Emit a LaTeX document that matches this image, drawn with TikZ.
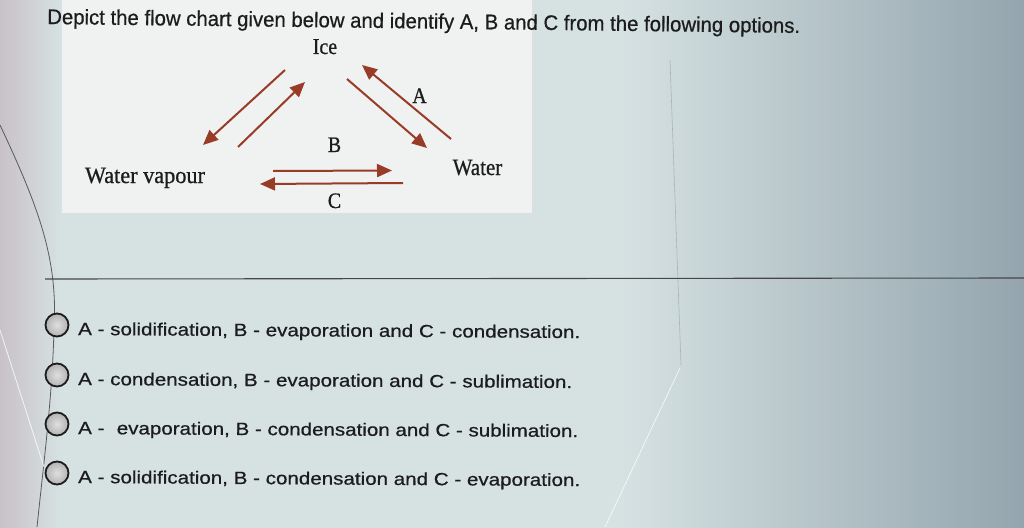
\documentclass[tikz,border=0pt]{standalone}
\usepackage{fontspec}
\setmainfont{Liberation Serif}[FakeBold=0.5]
\setsansfont{Liberation Sans}
\newfontfamily\optfont{Liberation Sans}[FakeBold=0.6]
\newfontfamily\serfont{Liberation Serif}[FakeBold=0.8]
\usetikzlibrary{arrows.meta}
\definecolor{arrowc}{HTML}{983C27}
\definecolor{bgmid}{HTML}{D6E2E2}
\definecolor{bgleft}{HTML}{C7BFC6}
\definecolor{bgright}{HTML}{93A4AE}
\definecolor{panelc}{HTML}{F4F5F4}
\definecolor{textc}{HTML}{1C1C1C}
\tikzset{
  arr/.style={draw=arrowc, line width=2pt, -{Triangle[length=15pt,width=13pt]}},
  serlab/.style={font=\serfont\fontsize{21}{24}\selectfont, text=textc, inner sep=0pt, anchor=base},
  optbox/.style={circle, draw=textc, line width=1.8pt, inner color=gray!25, outer color=gray!60, minimum size=23pt, inner sep=0pt},
  opttext/.style={anchor=base west, inner sep=0pt, rotate=-0.35, text=textc, font=\optfont}
}
\begin{document}
\begin{tikzpicture}[x=1pt,y=-1pt]
\useasboundingbox (0,0) rectangle (1024,527);
% background
\fill[bgmid] (-5,-5) rectangle (1030,532);
\shade[left color=bgmid, right color=bgright] (620,-5) rectangle (1030,532);
\shade[left color=bgleft, right color=bgmid] (-5,-5) rectangle (62,532);
\fill[panelc, opacity=0.85] (62,-5) rectangle (532,213);
% photo artefacts
\draw[gray!70!black, line width=0.8pt] (0,125) .. controls (40,210) and (58,260) .. (54,330) .. controls (52,400) and (44,460) .. (37,527);
\draw[white, line width=0.8pt, opacity=0.8] (0,330) -- (44,467);
\draw[gray!60, line width=0.6pt] (670,60) -- (681,365);
\draw[white, line width=0.7pt, opacity=0.8] (680,368) -- (605,527);
\draw[gray!55!black, line width=1.1pt] (45,279) -- (1024,278);
% title
\node[anchor=base west, inner sep=0pt, rotate=-0.68, text=textc, font=\optfont] (title) at (47,24)
  {\resizebox{753pt}{15.3pt}{Depict the flow chart given below and identify A, B and C from the following options.}};
% diagram nodes
\node[serlab] (ice) at (325,54) {\scalebox{0.95}[1.08]{Ice}};
\node[serlab] (vap) at (145,183) {\scalebox{1.06}[1.12]{Water vapour}};
\node[serlab] (wat) at (477.5,175) {\scalebox{1.0}[1.12]{Water}};
\node[serlab] (la) at (419.5,103) {\scalebox{0.95}[1.05]{A}};
\node[serlab] (lb) at (334.5,152) {\scalebox{0.95}[1.05]{B}};
\node[serlab] (lc) at (334.5,208) {\scalebox{0.95}[1.05]{C}};
% connector end points
\coordinate (iv1) at (285,70);  \coordinate (iv2) at (203,145);
\coordinate (vi1) at (238,147); \coordinate (vi2) at (305,82);
\coordinate (iw1) at (347,79);  \coordinate (iw2) at (427,148);
\coordinate (wi1) at (451,139); \coordinate (wi2) at (362,65);
\coordinate (b1) at (273,171);  \coordinate (b2) at (392,170.5);
\coordinate (c1) at (403,183);  \coordinate (c2) at (260,184);
\draw[arr] (iv1) -- (iv2);
\draw[arr] (vi1) -- (vi2);
\draw[arr] (iw1) -- (iw2);
\draw[arr] (wi1) -- (wi2);
\draw[arr] (b1) -- (b2);
\draw[arr] (c1) -- (c2);
% options
\node[optbox] (r1) at (57,325) {};
\node[optbox] (r2) at (57,375) {};
\node[optbox] (r3) at (57,424) {};
\node[optbox] (r4) at (57,473) {};
\node[opttext] (o1) at (78,335) {\resizebox{502pt}{12.8pt}{A - solidification, B - evaporation and C - condensation.}};
\node[opttext] (o2) at (78,385) {\resizebox{494pt}{12.8pt}{A - condensation, B - evaporation and C - sublimation.}};
\node[opttext] (o3) at (78,434) {\resizebox{500pt}{12.8pt}{A -\hspace{0.6em}evaporation, B - condensation and C - sublimation.}};
\node[opttext] (o4) at (78,483) {\resizebox{502pt}{12.8pt}{A - solidification, B - condensation and C - evaporation.}};
\end{tikzpicture}
\end{document}
